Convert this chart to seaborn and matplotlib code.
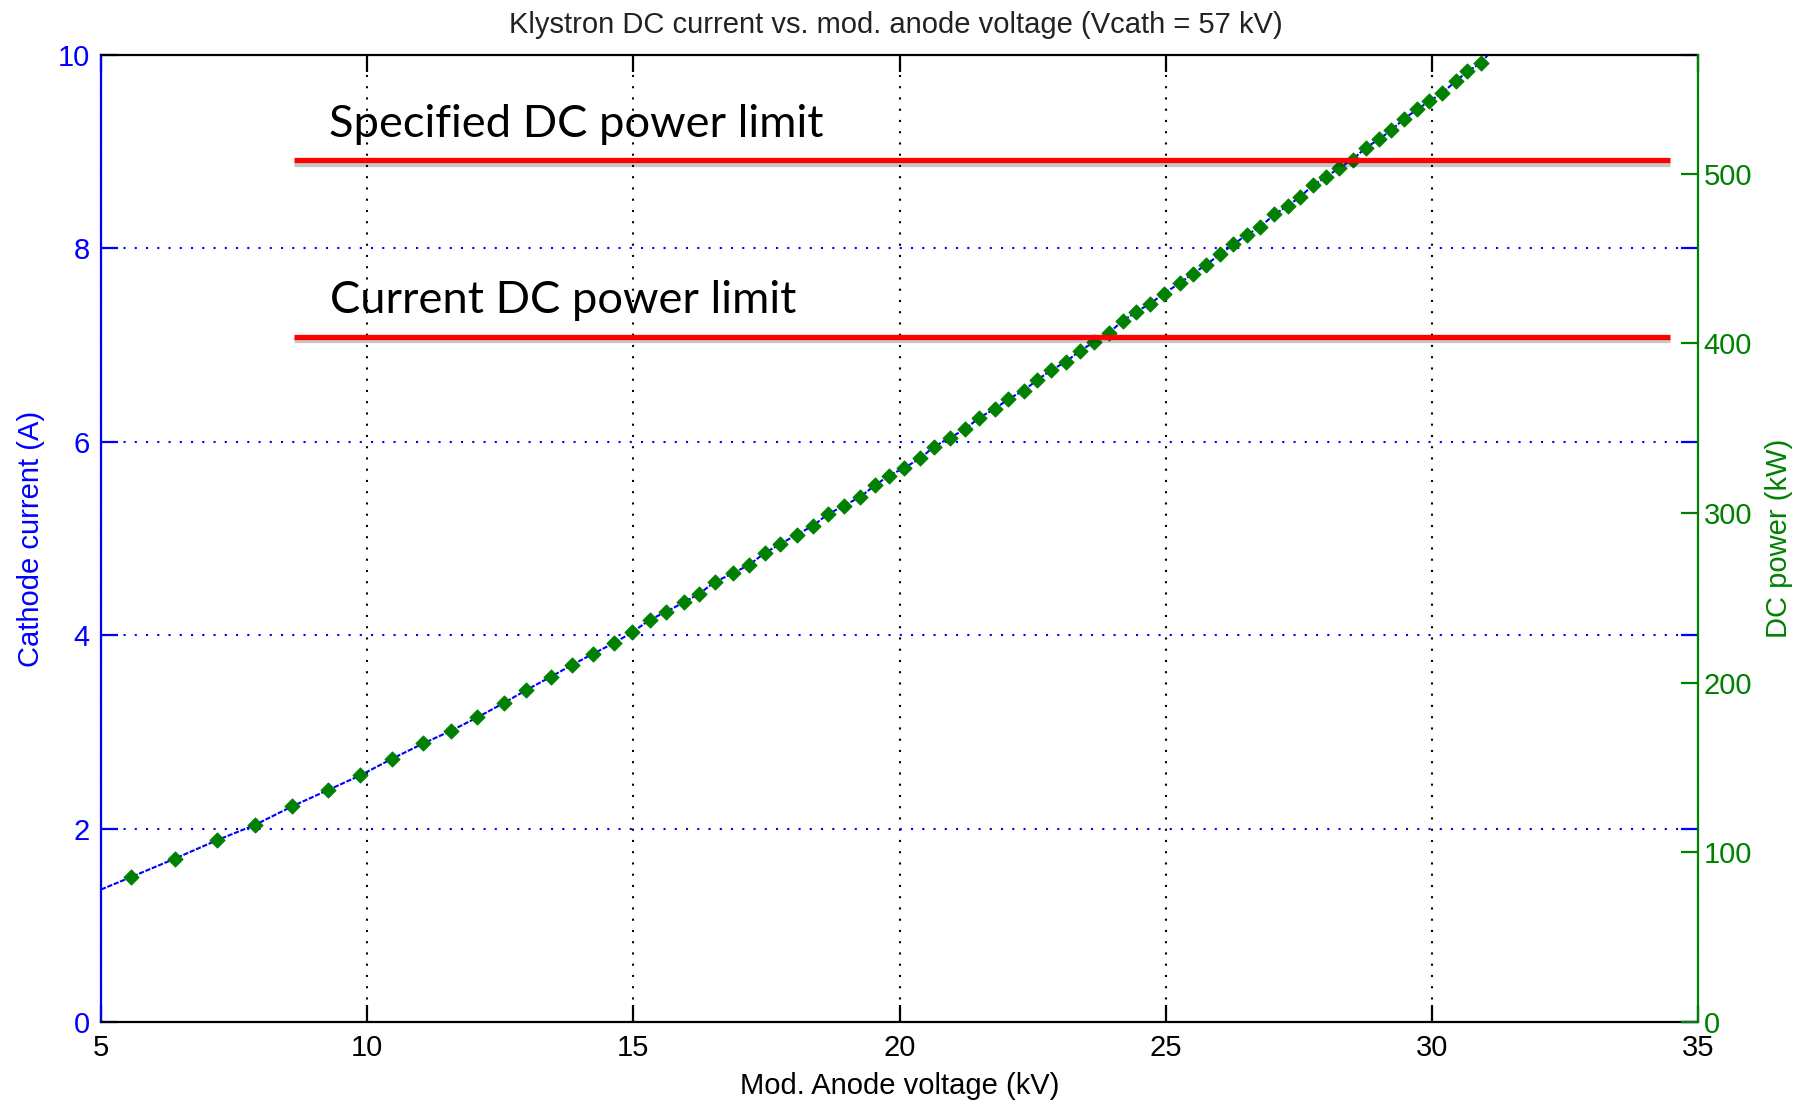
import numpy as np
import pandas as pd
import matplotlib
matplotlib.use("Agg")
import matplotlib.pyplot as plt
import matplotlib.patheffects as pe
from matplotlib import font_manager
import seaborn as sns

# ---------------- data ----------------
anode_kv = [5.57, 6.39, 7.18, 7.90, 8.59, 9.27, 9.87, 10.46, 11.05, 11.57,
            12.07, 12.57, 12.98, 13.45, 13.84, 14.25, 14.64, 14.98, 15.31, 15.61,
            15.95, 16.24, 16.53, 16.87, 17.18, 17.47, 17.75, 18.07, 18.37, 18.65,
            18.96, 19.26, 19.54, 19.80, 20.09, 20.39, 20.65, 20.94, 21.23, 21.50,
            21.79, 22.04, 22.33, 22.59, 22.85, 23.13, 23.39, 23.65, 23.94, 24.19,
            24.44, 24.71, 24.96, 25.26, 25.51, 25.76, 26.02, 26.27, 26.52, 26.77,
            27.04, 27.29, 27.52, 27.76, 28.01, 28.26, 28.51, 28.76, 29.01, 29.23,
            29.48, 29.73, 29.95, 30.20, 30.45, 30.67, 30.93]
current_a = [1.50, 1.69, 1.88, 2.04, 2.23, 2.40, 2.55, 2.72, 2.88, 3.01,
             3.15, 3.30, 3.43, 3.57, 3.69, 3.81, 3.92, 4.03, 4.16, 4.24,
             4.34, 4.43, 4.55, 4.64, 4.73, 4.85, 4.94, 5.04, 5.13, 5.25,
             5.34, 5.43, 5.55, 5.65, 5.73, 5.83, 5.95, 6.04, 6.13, 6.25,
             6.34, 6.44, 6.53, 6.64, 6.74, 6.83, 6.94, 7.03, 7.13, 7.25,
             7.34, 7.43, 7.53, 7.64, 7.74, 7.83, 7.94, 8.04, 8.14, 8.22,
             8.35, 8.44, 8.53, 8.65, 8.74, 8.83, 8.92, 9.04, 9.13, 9.22,
             9.34, 9.44, 9.52, 9.61, 9.73, 9.83, 9.92]
power_kw = [85.5, 96.3, 107.2, 116.3, 127.1, 136.8, 145.4, 155.0, 164.2, 171.6,
            179.6, 188.1, 195.5, 203.5, 210.3, 217.2, 223.4, 229.7, 237.1, 241.7,
            247.4, 252.5, 259.4, 264.5, 269.6, 276.5, 281.6, 287.3, 292.4, 299.3,
            304.4, 309.5, 316.4, 322.1, 326.6, 332.3, 339.2, 344.3, 349.4, 356.3,
            361.4, 367.1, 372.2, 378.5, 384.2, 389.3, 395.6, 400.7, 406.4, 413.3,
            418.4, 423.5, 429.2, 435.5, 441.2, 446.3, 452.6, 458.3, 464.0, 468.5,
            476.0, 481.1, 486.2, 493.1, 498.2, 503.3, 508.4, 515.3, 520.4, 525.5,
            532.4, 538.1, 542.6, 547.8, 554.6, 560.3, 565.4]
line_start = (5.0, 1.37)      # where the blue current curve enters the plot
line_end = (31.05, 10.0)      # where it leaves through the top

limit_labels = ["Specified DC power limit", "Current DC power limit"]
limit_kw = [508, 404]
limit_x_range = (8.62, 34.47)
label_x = [9.28, 9.30]
label_base_kw = [521.8, 417.8]

x_ticks = [5, 10, 15, 20, 25, 30, 35]
left_ticks = [0, 2, 4, 6, 8, 10]
right_ticks = [0, 100, 200, 300, 400, 500]

title = "Klystron DC current vs. mod. anode voltage (Vcath = 57 kV)"
xlabel = "Mod. Anode voltage (kV)"
ylabel_left = "Cathode current (A)"
ylabel_right = "DC power (kW)"

# ---------------- style ----------------
sns.set_theme(style="white")
names = {f.name for f in font_manager.fontManager.ttflist}
if "Liberation Sans Narrow" in names:
    base_font = ["Liberation Sans Narrow", "DejaVu Sans"]
    fs = 25
else:
    base_font = ["Liberation Sans", "DejaVu Sans"]
    fs = 21
plt.rcParams["font.family"] = base_font
ann_font = ["Lato", "DejaVu Sans"]

BLUE = "#0000FF"
GREEN = "#008000"

fig = plt.figure(figsize=(18.05, 11.03), dpi=100)
ax = fig.add_axes([101 / 1805, 1 - 1022 / 1103, 1597 / 1805, 967 / 1103])
ax2 = ax.twinx()

line_df = pd.DataFrame({
    "kv": [line_start[0]] + anode_kv + [line_end[0]],
    "amp": [line_start[1]] + current_a + [line_end[1]],
})
sns.lineplot(data=line_df, x="kv", y="amp", ax=ax, color=BLUE, linewidth=1.5,
             sort=False, estimator=None, linestyle=(0, (2.5, 0.8)))

mk_df = pd.DataFrame({"kv": anode_kv, "kw": power_kw})
sns.scatterplot(data=mk_df, x="kv", y="kw", ax=ax2, marker="D", s=58,
                color=GREEN, edgecolor=GREEN, linewidth=0.8, zorder=3)

ax.set_xlim(5, 35)
ax.set_ylim(0, 10)
ax2.set_ylim(0, 570)
ax.set_xticks(x_ticks)
ax.set_yticks(left_ticks)
ax2.set_yticks(right_ticks)

# grids
ax.xaxis.grid(True, color="black", linestyle=(0, (1, 4.4)), linewidth=1.5)
ax.yaxis.grid(True, color=BLUE, linestyle=(0, (1, 4.4)), linewidth=1.5)
ax2.grid(False)

# spines
for s in ["top", "bottom"]:
    ax.spines[s].set_color("black")
    ax.spines[s].set_linewidth(1.6)
ax.spines["left"].set_color(BLUE)
ax.spines["left"].set_linewidth(1.6)
ax.spines["right"].set_visible(False)
for s in ["top", "bottom", "left"]:
    ax2.spines[s].set_visible(False)
ax2.spines["right"].set_color(GREEN)
ax2.spines["right"].set_linewidth(1.6)

# ticks
ax.tick_params(axis="x", direction="in", length=12, width=1.6, colors="black",
               top=True, bottom=True, labelsize=fs, pad=8.5)
ax.tick_params(axis="y", direction="in", length=12, width=1.6, color=BLUE,
               labelcolor=BLUE, left=True, right=True, labelsize=fs, pad=8)
ax2.tick_params(axis="y", direction="in", length=12, width=1.6, color=GREEN,
                labelcolor=GREEN, left=False, right=True, labelsize=fs, pad=4)

ax.set_xlabel(xlabel, fontsize=fs, color="black", labelpad=7)
ax.set_ylabel(ylabel_left, fontsize=fs, color=BLUE, labelpad=9)
ax2.set_ylabel(ylabel_right, fontsize=fs, color=GREEN, labelpad=9)
ax.set_title("")
fig.text(896 / 1805, 1 - 33 / 1103, title, ha="center", va="baseline",
         fontsize=fs, color="#222222")

# red power-limit lines with soft shadow, and their labels
for lab, kw, lx, lb in zip(limit_labels, limit_kw, label_x, label_base_kw):
    ax2.plot(limit_x_range, [kw, kw], color="#FF0000", linewidth=3.8,
             solid_capstyle="butt", zorder=5,
             path_effects=[pe.SimpleLineShadow(offset=(0, -2.5), shadow_color="black",
                                               alpha=0.22),
                           pe.Normal()])
    ax2.text(lx, lb, lab, fontsize=32.6, family=ann_font, color="black",
             ha="left", va="baseline", zorder=6)

fig.savefig("out.png", dpi=100)
